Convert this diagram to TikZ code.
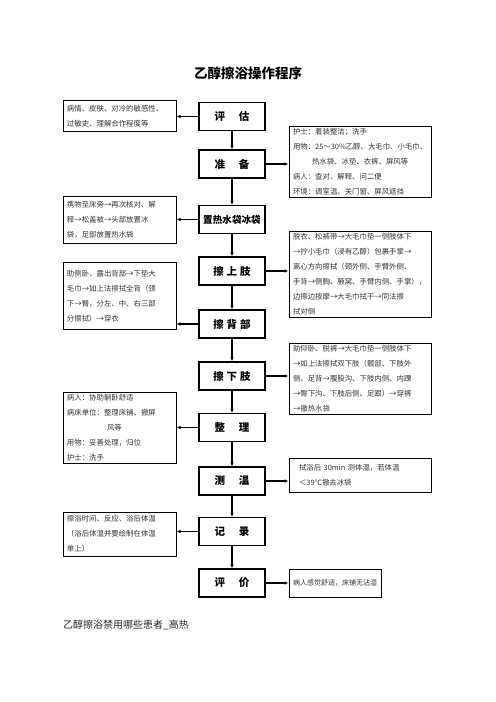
\documentclass[tikz,border=0pt]{standalone}
\usepackage{fontspec}
\setmainfont{Noto Sans CJK SC}
\usetikzlibrary{arrows.meta}
\tikzset{
  stagebox/.style={draw=black, line width=1.2bp, minimum width=66bp, minimum height=28bp, inner sep=0pt,
    font=\fontsize{10.5bp}{12bp}\selectfont\bfseries},
  notebox/.style={draw=black, line width=1bp, inner xsep=4bp, inner ysep=2bp, align=left,
    text=black!80, font=\fontsize{7.4bp}{15bp}\selectfont},
  flow/.style={line width=1.2bp, -{Latex[length=4bp,width=3.5bp]}}
}
\begin{document}
\begin{tikzpicture}[x=1bp,y=-1bp]
\useasboundingbox (0,0) rectangle (496,702);
\node[font=\fontsize{13.5bp}{15bp}\selectfont\bfseries] (title) at (248,73) {乙醇擦浴操作程序};

% stage boxes
\node[stagebox] (e1) at (232,116.5) {评\hspace{14bp}估};
\node[stagebox] (e2) at (232,164) {准\hspace{14bp}备};
\node[stagebox, font=\fontsize{9.6bp}{12bp}\selectfont\bfseries] (e3) at (232,219.5) {置热水袋冰袋};
\node[stagebox] (e4) at (232,271) {擦\hspace{3bp}上\hspace{3bp}肢};
\node[stagebox] (e5) at (232,324) {擦\hspace{3bp}背\hspace{3bp}部};
\node[stagebox] (e6) at (232,376) {擦\hspace{3bp}下\hspace{3bp}肢};
\node[stagebox] (e7) at (232,427.5) {整\hspace{14bp}理};
\node[stagebox] (e8) at (232,481) {测\hspace{14bp}温};
\node[stagebox] (e9) at (232,531.5) {记\hspace{14bp}录};
\node[stagebox] (e10) at (232,583) {评\hspace{14bp}价};

% left notes
\node[notebox, text width=105bp, minimum height=30bp] (l1) at (119.5,116)
  {病情、皮肤、对冷的敏感性、\\过敏史、理解合作程度等};
\node[notebox, text width=105bp, minimum height=47bp] (l2) at (119.5,219.5)
  {携物至床旁→再次核对、解\\释→松盖被→头部放置冰\\袋，足部放置热水袋};
\node[notebox, text width=105bp, minimum height=67bp] (l3) at (119.5,296)
  {助侧卧，露出背部→下垫大\\毛巾→如上法擦拭全背（颈\\下→臀，分左、中、右三部\\分擦拭）→穿衣};
\node[notebox, text width=105bp, minimum height=70bp] (l4) at (119.5,428)
  {病人：协助躺卧舒适\\病床单位：整理床铺、撤屏\\\hspace{40bp}风等\\用物：妥善处理，归位\\护士：洗手};
\node[notebox, text width=105bp, minimum height=44bp] (l5) at (119.5,534)
  {擦浴时间、反应、浴后体温\\（浴后体温并要绘制在体温\\单上）};

% right notes
\node[notebox, text width=134bp, minimum height=70bp] (r1) at (360,162)
  {护士：着装整洁；洗手\\用物：25～30\%乙醇、大毛巾、小毛巾、\\\hspace{19bp}热水袋、冰垫、衣裤、屏风等\\病人：查对、解释、问二便\\环境：调室温、关门窗、屏风遮挡};
\node[notebox, text width=134bp, minimum height=85bp] (r2) at (360,274.5)
  {脱衣、松裤带→大毛巾垫一侧肢体下\\→拧小毛巾（浸有乙醇）包裹手掌→\\离心方向擦拭（颈外侧、手臂外侧、\\手背→侧胸、腋窝、手臂内侧、手掌），\\边擦边按摩→大毛巾拭干→同法擦\\拭对侧};
\node[notebox, text width=134bp, minimum height=71bp] (r3) at (360,378.5)
  {助仰卧、脱裤→大毛巾垫一侧肢体下\\→如上法擦拭双下肢（髋部、下肢外\\侧、足背→腹股沟、下肢内侧、内踝\\→臀下沟、下肢后侧、足跟）→穿裤\\→撤热水袋};
\node[notebox, text width=134bp, minimum height=34bp] (r4) at (360,475)
  {\hspace{6bp}拭浴后 30min 测体温，若体温\\\hspace{6bp}＜39℃撤去冰袋};
\node[notebox, text width=84bp, minimum height=28bp, font=\fontsize{7bp}{15bp}\selectfont] (r5) at (335,583)
  {病人感觉舒适，床铺无沾湿};

% vertical flow
\draw[flow] (e1.south) -- (e2.north);
\draw[flow] (e2.south) -- (e3.north);
\draw[flow] (e3.south) -- (e4.north);
\draw[flow] (e4.south) -- (e5.north);
\draw[flow] (e5.south) -- (e6.north);
\draw[flow] (e6.south) -- (e7.north);
\draw[flow] (e7.south) -- (e8.north);
\draw[flow] (e8.south) -- (e9.north);
\draw[flow] (e9.south) -- (e10.north);

% side arrows
\draw[flow] (e1.west) -- (e1.west -| l1.east);
\draw[flow] (e3.west) -- (e3.west -| l2.east);
\draw[flow] (e5.west) -- (e5.west -| l3.east);
\draw[flow] (e7.west) -- (e7.west -| l4.east);
\draw[flow] (e9.west) -- (e9.west -| l5.east);
\draw[flow] (e2.east) -- (e2.east -| r1.west);
\draw[flow] (e4.east) -- (e4.east -| r2.west);
\draw[flow] (e6.east) -- (e6.east -| r3.west);
\draw[flow] (e8.east) -- (e8.east -| r4.west);
\draw[flow] (e10.east) -- (e10.east -| r5.west);

\node[anchor=west, font=\fontsize{10bp}{12bp}\selectfont, text=black!85, inner sep=0pt] (foot) at (63,625) {乙醇擦浴禁用哪些患者\_高热};
\end{tikzpicture}
\end{document}
